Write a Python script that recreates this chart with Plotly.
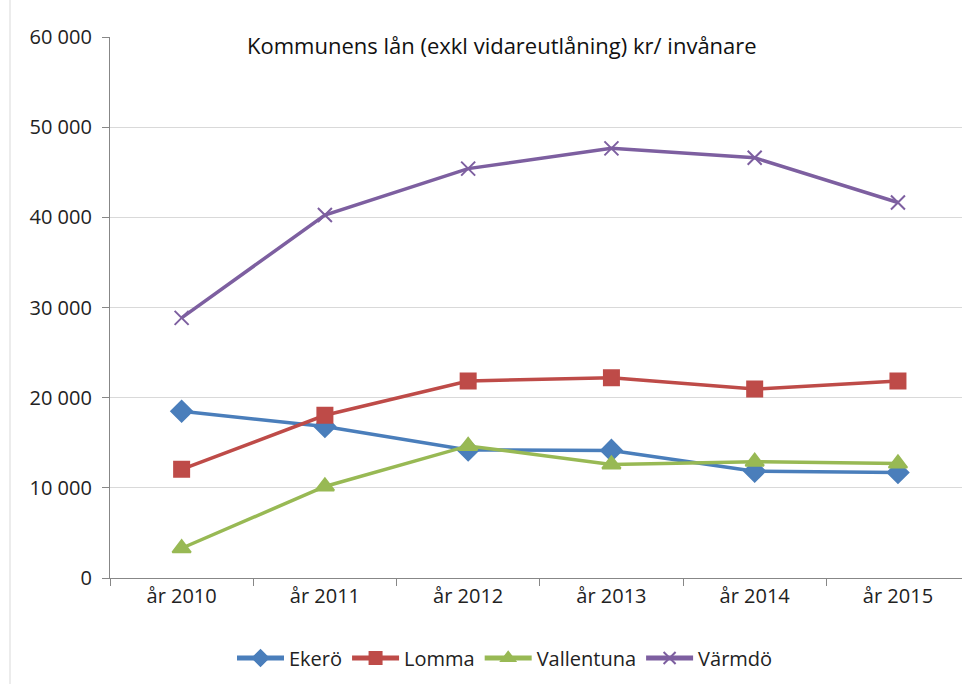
import plotly.graph_objects as go

years = ["år 2010", "år 2011", "år 2012", "år 2013", "år 2014", "år 2015"]
ekero = [18500, 16800, 14200, 14150, 11850, 11700]
lomma = [12050, 18050, 21850, 22200, 20950, 21850]
vallentuna = [3300, 10150, 14650, 12600, 12900, 12700]
varmdo = [28850, 40250, 45400, 47650, 46600, 41650]

series = [
    ("Ekerö", ekero, "#4A7EBB", "diamond", 16),
    ("Lomma", lomma, "#BE4B48", "square", 15),
    ("Vallentuna", vallentuna, "#98B954", "triangle-up", 16),
    ("Värmdö", varmdo, "#7D5FA0", "x-thin", 14),
]

fig = go.Figure()
for name, vals, col, sym, sz in series:
    fig.add_trace(go.Scatter(
        x=years, y=vals, name=name, mode="lines+markers",
        line=dict(color=col, width=3.5),
        marker=dict(symbol=sym, size=sz, color=col,
                    line=dict(color=col, width=2)),
    ))

font = "Open Sans, Noto Sans, sans-serif"
fig.update_layout(
    width=962, height=684,
    margin=dict(l=110, r=0, t=37, b=106),
    paper_bgcolor="white", plot_bgcolor="white",
    separators=", ",
    font=dict(family=font, size=20, color="#222222"),
    showlegend=True,
    legend=dict(orientation="h", x=(505 - 110) / 852, xanchor="center",
                y=(578 - 658) / 541, yanchor="middle", font=dict(size=20),
                itemwidth=47, itemsizing="constant", tracegroupgap=0),
    xaxis=dict(
        type="category", range=[-0.5, 5.447],
        showline=True, linecolor="#878787", linewidth=1.2,
        ticks="outside", tickson="boundaries", ticklen=7, tickcolor="#878787",
        showgrid=False, tickfont=dict(size=20),
    ),
    yaxis=dict(
        range=[0, 60000], dtick=10000, tickformat=",d",
        showline=True, linecolor="#878787", linewidth=1.2,
        ticks="outside", ticklen=7, tickcolor="#878787",
        showgrid=True, gridcolor="#D9D9D9", gridwidth=1.2,
        zeroline=False, tickfont=dict(size=20),
        ticklabelstandoff=6,
    ),
    annotations=[dict(
        text="Kommunens lån (exkl vidareutlåning) kr/ invånare",
        xref="paper", yref="paper", x=(502 - 110) / 852, y=(578 - 45) / 541,
        xanchor="center", yanchor="middle", showarrow=False,
        font=dict(size=22, color="#111111"),
    )],
    shapes=[dict(type="line", xref="paper", yref="paper",
                 x0=-100 / 852, x1=-100 / 852, y0=-106 / 541, y1=37 / 541 + 1,
                 line=dict(color="#D9D9D9", width=1))],
)

fig.write_html("out.html", config={"displayModeBar": False},
               post_script="document.body.style.margin='0';document.body.style.overflow='hidden';")
